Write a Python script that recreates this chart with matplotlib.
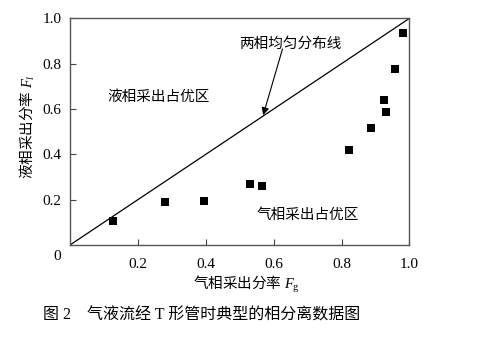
import matplotlib
matplotlib.use("Agg")
import matplotlib.pyplot as plt

# Phase-split data for gas-liquid flow through a T-junction
fg = [0.128, 0.281, 0.396, 0.531, 0.566, 0.823, 0.888, 0.925, 0.932, 0.958, 0.982]
fl = [0.106, 0.188, 0.193, 0.268, 0.259, 0.418, 0.515, 0.640, 0.585, 0.775, 0.934]
ticks = [0.2, 0.4, 0.6, 0.8, 1.0]
tick_labels = ["0.2", "0.4", "0.6", "0.8", "1.0"]

fonts = ["Liberation Serif", "Noto Sans CJK SC"]
plt.rcParams["font.family"] = fonts
plt.rcParams["mathtext.fontset"] = "custom"
plt.rcParams["mathtext.rm"] = "Noto Sans CJK SC"
plt.rcParams["mathtext.it"] = "Liberation Serif:italic"
plt.rcParams["mathtext.sf"] = "Liberation Serif"

fig = plt.figure(figsize=(4.96, 3.40), dpi=100)
ax = fig.add_axes([0.1411, 0.2794, 0.6845, 0.6668])

# equal-distribution line
ax.plot([0, 1], [0, 1], color="black", lw=0.9)
ax.scatter(fg, fl, marker="s", s=32, color="black", zorder=3, linewidths=0)

ax.set_xlim(0, 1)
ax.set_ylim(0, 1)
ax.set_xticks(ticks)
ax.set_xticklabels(tick_labels)
ax.set_yticks(ticks)
ax.set_yticklabels(tick_labels)
ax.tick_params(direction="in", length=4.5, width=0.8, labelsize=11, colors="#444444",
               labelcolor="black")
ax.tick_params(axis="x", pad=9)
ax.tick_params(axis="y", pad=6)
for sp in ax.spines.values():
    sp.set_color("#555555")
    sp.set_linewidth(1.0)

fig.text(57 / 496, 1 - 257 / 340, "0", fontsize=11, ha="center", va="center")

ax.set_xlabel(r"$\mathrm{气相采出分率}\ F_{\mathsf{g}}$", fontsize=10.5, labelpad=6)
ax.set_ylabel(r"$\mathrm{液相采出分率}\ F_l$", fontsize=10.5, labelpad=5)
ax.xaxis.set_label_coords(0.52, -0.13)
ax.yaxis.set_label_coords(-0.097, 0.52)

ax.text(0.26, 0.654, "液相采出占优区", fontsize=10.5, ha="center", va="center")
ax.text(0.699, 0.132, "气相采出占优区", fontsize=10.5, ha="center", va="center")
ax.text(0.649, 0.886, "两相均匀分布线", fontsize=10.5, ha="center", va="center")
ax.annotate("", xy=(0.569, 0.573), xytext=(0.626, 0.865),
            arrowprops=dict(arrowstyle="-|>", color="black", lw=0.8,
                            mutation_scale=11, shrinkA=0, shrinkB=0))

fig.text(43 / 496, 1 - 316 / 340, "图 2\u3000气液流经 T 形管时典型的相分离数据图",
         fontsize=11.5, ha="left", va="center")

fig.savefig("out.png", dpi=100)
